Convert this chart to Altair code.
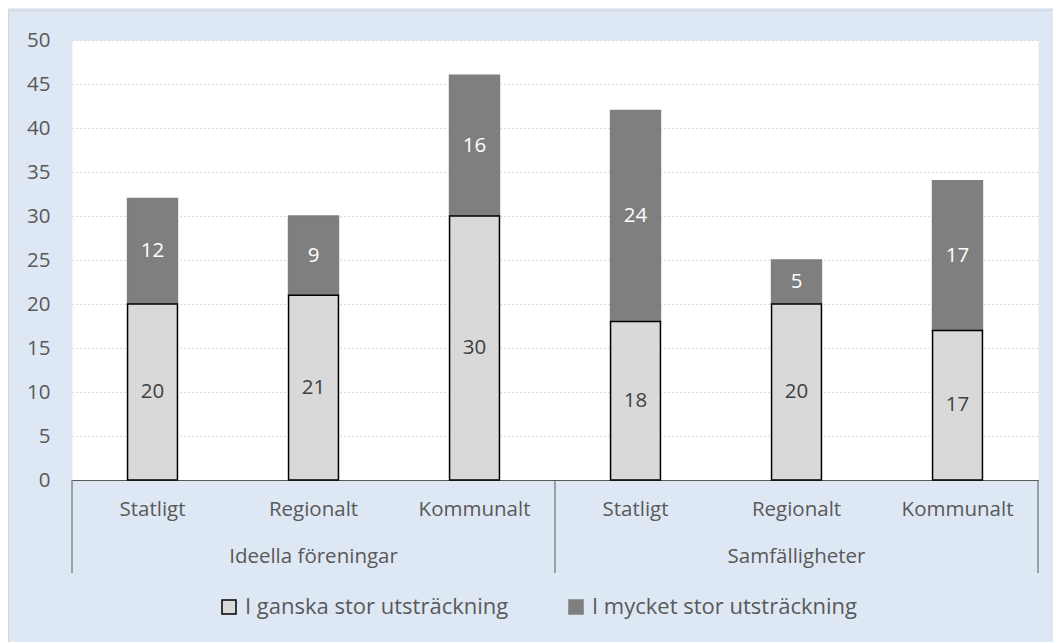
import altair as alt
import pandas as pd

groups = ["Ideella föreningar", "Ideella föreningar", "Ideella föreningar",
          "Samfälligheter", "Samfälligheter", "Samfälligheter"]
levels = ["Statligt", "Regionalt", "Kommunalt", "Statligt", "Regionalt", "Kommunalt"]
ganska = [20, 21, 30, 18, 20, 17]
mycket = [12, 9, 16, 24, 5, 17]
series = ["I ganska stor utsträckning", "I mycket stor utsträckning"]
group_names = ["Ideella föreningar", "Samfälligheter"]
group_mid = ["Regionalt", "Regionalt"]
separators = [0, 3, 6]
yticks = [0, 5, 10, 15, 20, 25, 30, 35, 40, 45, 50]

FONT = "Open Sans"
FS = 20.5
TXT = "#595959"

keys = [g + "|" + l for g, l in zip(groups, levels)]
rows = []
# dark series first so the light bars (with black outline) are drawn on top
for k, g, l, v in zip(keys, groups, levels, mycket):
    rows.append({"key": k, "group": g, "level": l, "series": series[1], "value": v, "ord": 2})
for k, g, l, v in zip(keys, groups, levels, ganska):
    rows.append({"key": k, "group": g, "level": l, "series": series[0], "value": v, "ord": 1})
df = pd.DataFrame(rows)

grp_df = pd.DataFrame({"group": group_names,
                       "key": [g + "|" + m for g, m in zip(group_names, group_mid)]})
sep_df = pd.DataFrame({"pos": separators})

xband = alt.Scale(paddingInner=0.69, paddingOuter=0.345)

legend = alt.Legend(title=None, orient="none", legendX=146, legendY=556,
                    direction="horizontal", symbolType="square", symbolSize=196,
                    symbolStrokeWidth=1.5, labelFontSize=22, labelFont=FONT,
                    labelColor=TXT, columnPadding=56, labelOffset=5, labelLimit=0)

bars = alt.Chart(df).mark_bar(strokeWidth=1.5).encode(
    x=alt.X("key:N", sort=keys, scale=xband,
            axis=alt.Axis(title=None, labelExpr="split(datum.label, '|')[1]", labelAngle=0,
                          ticks=False, labelPadding=19, domainColor=TXT, domainWidth=1,
                          labelColor=TXT, labelFontSize=FS, labelFont=FONT, grid=False)),
    y=alt.Y("value:Q", stack="zero", scale=alt.Scale(domain=[0, 50], nice=False),
            axis=alt.Axis(title=None, values=yticks, ticks=False, domain=False,
                          labelPadding=22, labelColor=TXT, labelFontSize=FS, labelFont=FONT,
                          grid=True, gridDash=[1.5, 2.5], gridColor="#d0d0d0", gridWidth=1)),
    fill=alt.Fill("series:N", scale=alt.Scale(domain=series, range=["#d9d9d9", "#7f7f7f"]),
                  legend=legend),
    stroke=alt.Stroke("series:N", scale=alt.Scale(domain=series, range=["#000000", "#7f7f7f"]),
                      legend=legend),
    order=alt.Order("ord:Q"),
)

labels = alt.Chart(df).transform_stack(
    stack="value", groupby=["key"], as_=["y0", "y1"], sort=[alt.SortField("ord")]
).transform_calculate(mid="(datum.y0 + datum.y1) / 2").mark_text(
    fontSize=FS, font=FONT, baseline="middle", align="center"
).encode(
    x=alt.X("key:N", sort=keys, scale=xband),
    y=alt.Y("mid:Q"),
    text="value:Q",
    color=alt.Color("series:N", scale=alt.Scale(domain=series, range=["#404040", "#ffffff"]),
                    legend=None),
)

grp_labels = alt.Chart(grp_df).mark_text(
    fontSize=FS, font=FONT, color=TXT, baseline="middle", align="center"
).encode(
    x=alt.X("key:N", sort=keys, scale=xband),
    y=alt.value(517),
    text="group:N",
)

inner = alt.layer(bars, labels, grp_labels)

seps = alt.Chart(sep_df).mark_rule(color=TXT, strokeWidth=1).encode(
    x=alt.X("pos:Q", scale=alt.Scale(domain=[0, 6], nice=False, zero=False), axis=None),
    y=alt.value(440),
    y2=alt.value(533),
)

frame = alt.Chart(sep_df.head(1)).mark_rect(fill="transparent", stroke="#d4d4d4", strokeWidth=1).encode(
    x=alt.value(-63.5), x2=alt.value(1000), y=alt.value(-29.5), y2=alt.value(700),
)

chart = alt.layer(frame, inner, seps).resolve_scale(x="independent").properties(
    width=966, height=440,
    autosize=alt.AutoSizeParams(type="none"),
    padding={"left": 64, "top": 32, "right": 15, "bottom": 162},
    background="#dee8f4",
).configure_view(fill="white", stroke="transparent")

chart.save("out.html", embed_options={"renderer": "svg", "actions": False})
